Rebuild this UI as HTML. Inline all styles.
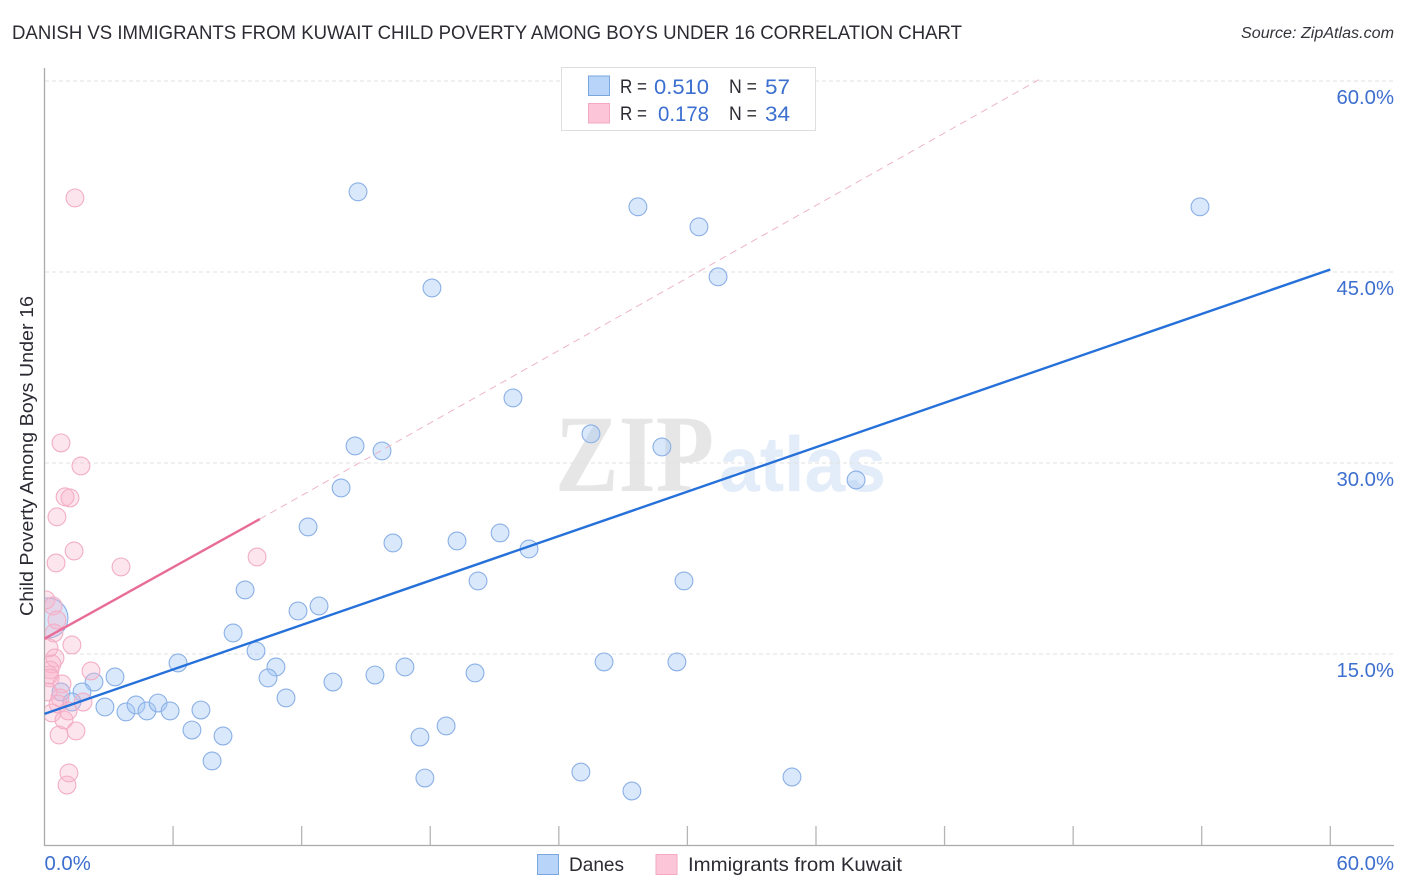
<!DOCTYPE html>
<html lang="en">
<head>
<meta charset="utf-8">
<title>Danish vs Immigrants from Kuwait Child Poverty Among Boys Under 16 Correlation Chart</title>
<style>
html,body{margin:0;padding:0;background:#fff;width:1406px;height:892px;overflow:hidden}
svg{display:block}
text{font-family:"Liberation Sans",sans-serif}
</style>
</head>
<body>
<svg id="chart" width="1406" height="892" viewBox="0 0 1406 892" xmlns="http://www.w3.org/2000/svg">
  <defs><clipPath id="plot-clip"><rect x="45" y="60" width="1349" height="785"/></clipPath></defs>
  <text x="12" y="39" font-size="19" fill="#2b2b33" textLength="950" lengthAdjust="spacingAndGlyphs">DANISH VS IMMIGRANTS FROM KUWAIT CHILD POVERTY AMONG BOYS UNDER 16 CORRELATION CHART</text>
  <text x="1241" y="38" font-size="15.5" font-style="italic" fill="#33333b" textLength="153" lengthAdjust="spacingAndGlyphs">Source: ZipAtlas.com</text>
  <g>
    <text x="555" y="491" font-size="110" font-weight="bold" fill="#e6e6e6" style="font-family:'Liberation Serif',serif" textLength="159" lengthAdjust="spacingAndGlyphs">ZIP</text>
    <text x="719" y="491" font-size="78" font-weight="bold" fill="#e3ecf9" textLength="167" lengthAdjust="spacingAndGlyphs">atlas</text>
  </g>
  <g id="grid"></g>
  <g id="axes"></g>
  <g id="dane-points" clip-path="url(#plot-clip)"></g>
  <g id="kuwait-points" clip-path="url(#plot-clip)"></g>
  <g id="trends"></g>
  <text transform="translate(33,456) rotate(-90)" font-size="18.5" fill="#2b2b33" text-anchor="middle" textLength="320" lengthAdjust="spacingAndGlyphs">Child Poverty Among Boys Under 16</text>

  <g>
    <rect x="561.5" y="67.5" width="254" height="63" fill="#fff" stroke="#dedede" stroke-width="1"/>
    <rect x="588.5" y="76" width="21" height="19.5" fill="#b8d4f8" stroke="#7aa7e0" stroke-width="1"/>
    <rect x="588.5" y="103.5" width="21" height="19.5" fill="#fdc6d8" stroke="#f2a9c1" stroke-width="1"/>
    <text x="620" y="93" font-size="19" fill="#2b2b33" textLength="27" lengthAdjust="spacingAndGlyphs">R =</text>
    <text x="654" y="94" font-size="21" fill="#3b6fd0" textLength="55" lengthAdjust="spacingAndGlyphs">0.510</text>
    <text x="729" y="93" font-size="19" fill="#2b2b33" textLength="28" lengthAdjust="spacingAndGlyphs">N =</text>
    <text x="765" y="94" font-size="21" fill="#3b6fd0" textLength="25" lengthAdjust="spacingAndGlyphs">57</text>
    <text x="620" y="120" font-size="19" fill="#2b2b33" textLength="27" lengthAdjust="spacingAndGlyphs">R =</text>
    <text x="658" y="121" font-size="21" fill="#3b6fd0" textLength="51" lengthAdjust="spacingAndGlyphs">0.178</text>
    <text x="729" y="120" font-size="19" fill="#2b2b33" textLength="28" lengthAdjust="spacingAndGlyphs">N =</text>
    <text x="765" y="121" font-size="21" fill="#3b6fd0" textLength="25" lengthAdjust="spacingAndGlyphs">34</text>
  </g>

  <g>
    <rect x="537.5" y="854.5" width="21" height="20" fill="#b8d4f8" stroke="#7aa7e0" stroke-width="1"/>
    <text x="569" y="871" font-size="19.5" fill="#2b2b33" textLength="55" lengthAdjust="spacingAndGlyphs">Danes</text>
    <rect x="656" y="854.5" width="21" height="20" fill="#fdc6d8" stroke="#f2a9c1" stroke-width="1"/>
    <text x="688" y="871" font-size="19.5" fill="#2b2b33" textLength="214" lengthAdjust="spacingAndGlyphs">Immigrants from Kuwait</text>
  </g>
</svg>
<script>
// Chart data (percent values)
const yTicks = [15, 30, 45, 60];
const yTickLabels = ['15.0%', '30.0%', '45.0%', '60.0%'];
const xTicks = [0, 6, 12, 18, 24, 30, 36, 42, 48, 54, 60];
const xEndLabels = ['0.0%', '60.0%'];
const daneX = [14.63,27.69,53.92,30.54,31.43,18.08,21.86,25.50,28.81,14.49,15.75,13.84,37.87,12.30,19.25,16.26,21.26,22.61,20.23,29.84,9.36,12.81,11.83,8.80,9.87,6.23,10.80,10.43,16.82,15.42,20.09,26.11,29.51,13.46,11.27,2.31,3.29,1.75,0.77,1.28,2.82,3.80,4.27,4.78,5.30,5.86,7.30,6.88,8.33,7.82,17.52,18.74,17.75,25.03,27.41,34.88,0.16];
const daneY = [51.30,50.12,50.12,48.55,44.62,43.75,35.11,32.29,31.26,31.34,30.95,28.04,28.67,24.98,23.88,23.72,24.51,23.25,20.74,20.74,20.03,18.77,18.38,16.65,15.24,14.30,13.98,13.12,13.98,13.35,13.51,14.38,14.38,12.80,11.55,12.80,13.20,12.02,12.02,11.23,10.84,10.45,11.00,10.53,11.15,10.53,10.60,9.03,8.56,6.60,8.48,9.35,5.26,5.73,4.24,5.34,17.83];
const daneWeight = [1,1,1,1,1,1,1,1,1,1,1,1,1,1,1,1,1,1,1,1,1,1,1,1,1,1,1,1,1,1,1,1,1,1,1,1,1,1,1,1,1,1,1,1,1,1,1,1,1,1,1,1,1,1,1,1,2.25];
const kuwaitX = [1.42,0.77,1.70,0.96,1.19,0.58,1.38,0.54,3.57,9.92,0.07,0.40,0.58,0.44,1.28,0.21,0.49,0.35,0.26,0.21,0.26,2.17,0.82,1.80,0.16,0.72,0.63,1.10,0.35,0.91,1.47,0.68,1.14,1.05];
const kuwaitY = [50.82,31.58,29.77,27.34,27.26,25.77,23.09,22.15,21.84,22.62,19.25,18.77,17.67,16.65,15.71,15.48,14.69,14.22,13.75,13.35,13.12,13.67,12.65,11.23,12.02,11.55,11.08,10.53,10.37,9.82,8.96,8.64,5.66,4.71];
const daneTrendX = [0, 60];
const daneTrendY = [10.3, 45.2];
const kuwaitTrendX = [0, 10.05];
const kuwaitTrendY = [16.2, 25.6];
const kuwaitDashX = [10.05, 46.4];
const kuwaitDashY = [25.6, 60.1];

// Axis functions
function xScale(v) { return 44.5 + v * 21.43; }
function yScale(v) { return 845 - v * 12.733; }

const NS = 'http://www.w3.org/2000/svg';
function make(tag, attrs, parent) {
  const el = document.createElementNS(NS, tag);
  for (const k in attrs) el.setAttribute(k, attrs[k]);
  parent.appendChild(el);
  return el;
}
const gridG = document.getElementById('grid');
const axesG = document.getElementById('axes');
const daneG = document.getElementById('dane-points');
const kuwaitG = document.getElementById('kuwait-points');
const trendG = document.getElementById('trends');

yTicks.forEach(function (t, i) {
  const line = make('line', {x1: 45, x2: 1394, y1: yScale(t), y2: yScale(t), stroke: '#e2e2e2', 'stroke-width': 1, 'stroke-dasharray': '4 3'}, gridG);
  
  
  const label = make('text', {x: 1394, y: yScale(t) + 23, 'font-size': 20.3, fill: '#3d6fcf', 'text-anchor': 'end'}, axesG);
  
  
  label.textContent = yTickLabels[i];
});

const yAxis = make('line', {x1: 44.5, x2: 44.5, y1: 68, y2: 846, stroke: '#aaaaaa', 'stroke-width': 1.3}, axesG);


const xAxis = make('line', {x1: 44, x2: 1394, y1: 845.5, y2: 845.5, stroke: '#aaaaaa', 'stroke-width': 1.3}, axesG);



xTicks.forEach(function (t) {
  if (t === 0) return;
  const tick = make('line', {x1: xScale(t), x2: xScale(t), y1: 826, y2: 845, stroke: '#b5b5b5', 'stroke-width': 1.3}, axesG);
  
  
});

const xLabelStart = make('text', {x: xScale(xTicks[0]), y: 870, 'font-size': 20.3, fill: '#3d6fcf'}, axesG);


xLabelStart.textContent = xEndLabels[0];
const xLabelEnd = make('text', {x: 1394, y: 870, 'font-size': 20.3, fill: '#3d6fcf', 'text-anchor': 'end'}, axesG);


xLabelEnd.textContent = xEndLabels[1];

daneX.forEach(function (x, i) {
  const c = make('circle', {cx: xScale(x), cy: yScale(daneY[i]), r: 8.9 * daneWeight[i], fill: 'rgba(165,200,245,0.42)', stroke: '#8bb0e6', 'stroke-width': 1.1}, daneG);
  
  
});
kuwaitX.forEach(function (x, i) {
  const c = make('circle', {cx: xScale(x), cy: yScale(kuwaitY[i]), r: 8.9, fill: 'rgba(250,180,203,0.34)', stroke: '#f2aec5', 'stroke-width': 1.1}, kuwaitG);
  
  
});

const dash = make('line', {x1: xScale(kuwaitDashX[0]), y1: yScale(kuwaitDashY[0]), x2: xScale(kuwaitDashX[1]), y2: yScale(kuwaitDashY[1]), stroke: '#eeb4c8', 'stroke-width': 1, 'stroke-dasharray': '7 5'}, trendG);


const kTrend = make('line', {x1: xScale(kuwaitTrendX[0]), y1: yScale(kuwaitTrendY[0]), x2: xScale(kuwaitTrendX[1]), y2: yScale(kuwaitTrendY[1]), stroke: '#e86c98', 'stroke-width': 2.4}, trendG);


const dTrend = make('line', {x1: xScale(daneTrendX[0]), y1: yScale(daneTrendY[0]), x2: xScale(daneTrendX[1]), y2: yScale(daneTrendY[1]), stroke: '#2671d9', 'stroke-width': 2.4}, trendG);


</script>
</body>
</html>
